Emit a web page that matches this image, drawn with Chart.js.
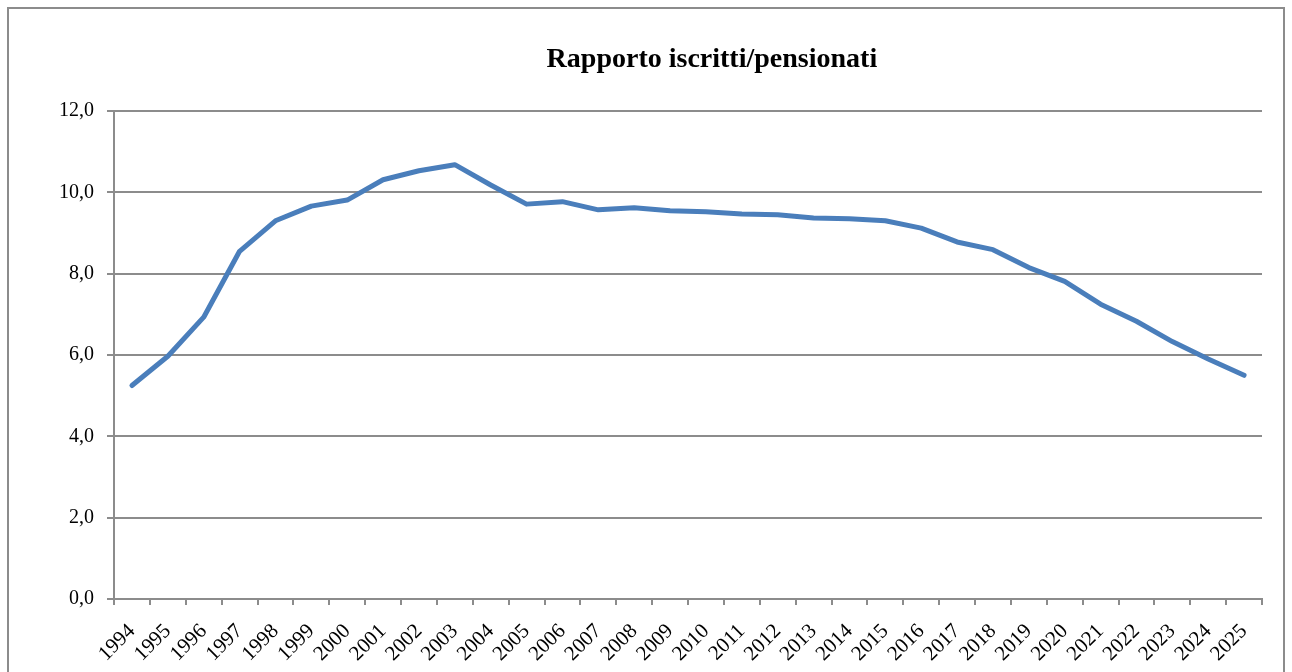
<!DOCTYPE html>
<html>
<head>
<meta charset="utf-8">
<script src="https://cdn.jsdelivr.net/npm/chart.js@4/dist/chart.umd.min.js"></script>
<style>
    body { margin: 0; background: #fff; }
    #wrap { width: 1292px; height: 672px; }
</style>
</head>
<body>
<div id="wrap"><canvas id="ratioChart" width="1292" height="672"></canvas></div>
<script>
const chartTitle = 'Rapporto iscritti/pensionati';

const years = [
    '1994', '1995', '1996', '1997', '1998', '1999', '2000', '2001',
    '2002', '2003', '2004', '2005', '2006', '2007', '2008', '2009',
    '2010', '2011', '2012', '2013', '2014', '2015', '2016', '2017',
    '2018', '2019', '2020', '2021', '2022', '2023', '2024', '2025'
];

const ratio = [
    5.25, 5.97, 6.93, 8.55, 9.30, 9.66, 9.81, 10.31,
    10.53, 10.68, 10.18, 9.71, 9.77, 9.57, 9.62, 9.55,
    9.52, 9.47, 9.45, 9.37, 9.35, 9.30, 9.12, 8.78,
    8.59, 8.15, 7.81, 7.25, 6.83, 6.33, 5.90, 5.50
];

const yTicks = [0, 2, 4, 6, 8, 10, 12];

const gridGray = '#8c8c8c';
const serif = "'Liberation Serif', 'DejaVu Serif', serif";

// outer frame + title, Excel style
const framePlugin = {
    id: 'frame',
    beforeDraw(chart) {
        const ctx = chart.ctx;
        ctx.save();
        ctx.fillStyle = '#fff';
        ctx.fillRect(0, 0, chart.width, chart.height);
        ctx.strokeStyle = gridGray;
        ctx.lineWidth = 2;
        ctx.strokeRect(8, 8, chart.width - 16, chart.height + 20);
        ctx.restore();
    },
    afterDraw(chart) {
        const ctx = chart.ctx;
        ctx.save();
        ctx.fillStyle = '#000';
        ctx.font = 'bold 28px ' + serif;
        ctx.textAlign = 'center';
        ctx.textBaseline = 'alphabetic';
        ctx.fillText(chartTitle, chart.width * 0.551, 67);
        ctx.restore();
    }
};

new Chart(document.getElementById('ratioChart'), {
    type: 'line',
    data: {
        labels: years,
        datasets: [{
            data: ratio,
            borderColor: '#4a7ebb',
            borderWidth: 5,
            pointRadius: 0,
            tension: 0,
            borderCapStyle: 'round',
            borderJoinStyle: 'round',
            fill: false
        }]
    },
    options: {
        responsive: false,
        animation: false,
        layout: { padding: { top: 111, right: 30, bottom: 0, left: 0 } },
        plugins: {
            legend: { display: false },
            title: { display: false },
            tooltip: { enabled: false }
        },
        scales: {
            x: {
                offset: true,
                grid: {
                    display: true,
                    drawOnChartArea: false,
                    drawTicks: true,
                    tickLength: 6,
                    offset: true,
                    color: gridGray,
                    lineWidth: 2
                },
                border: { display: true, color: gridGray, width: 2 },
                ticks: {
                    color: '#000',
                    font: { family: serif, size: 21 },
                    minRotation: 45,
                    maxRotation: 45,
                    autoSkip: false,
                    padding: 14
                },
                afterFit(scale) { scale.height = 73; }
            },
            y: {
                min: 0,
                max: 12,
                afterBuildTicks(scale) {
                    scale.ticks = yTicks.map(v => ({ value: v }));
                },
                grid: {
                    color: gridGray,
                    lineWidth: 2,
                    tickLength: 7
                },
                border: { display: true, color: gridGray, width: 2 },
                ticks: {
                    color: '#000',
                    font: { family: serif, size: 20 },
                    padding: 13,
                    callback: v => v.toFixed(1).replace('.', ',')
                },
                afterFit(scale) { scale.width = 114; }
            }
        }
    },
    plugins: [framePlugin]
});
</script>
</body>
</html>
